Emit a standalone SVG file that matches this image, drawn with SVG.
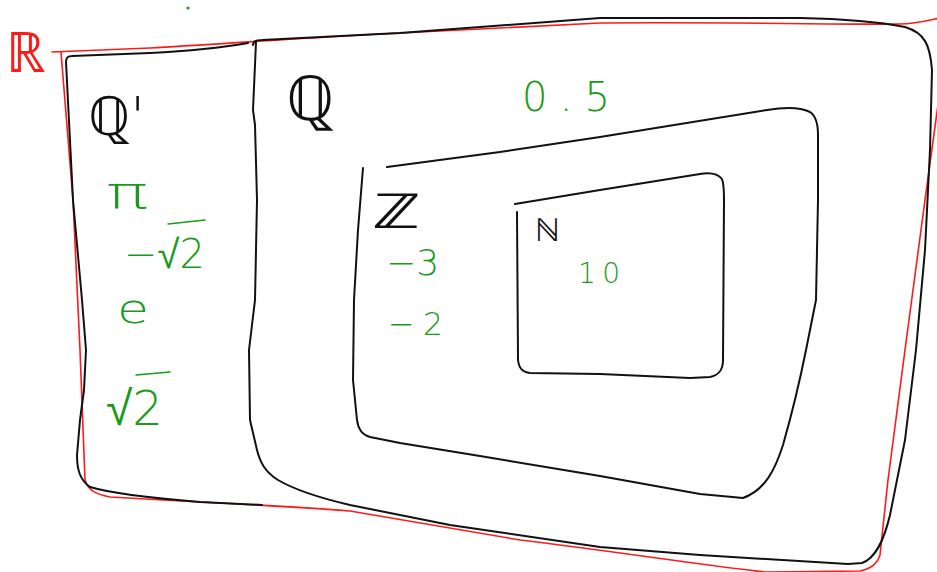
<svg xmlns="http://www.w3.org/2000/svg" width="937" height="572" viewBox="0 0 937 572">
<style>
.red{fill:none;stroke:#ff1a1a;stroke-width:1.6;stroke-linecap:round;stroke-linejoin:round}
.blk{fill:none;stroke:#111;stroke-width:2;stroke-linecap:round;stroke-linejoin:round}
.lab{font-family:"DejaVu Sans","Noto Sans",sans-serif;font-weight:200;fill:#111}
.grn{font-family:"DejaVu Sans","Noto Sans",sans-serif;font-weight:200;fill:#1a9a1a}
.gl{fill:none;stroke:#1a9a1a;stroke-width:1.4;stroke-linecap:round}
</style>
<rect width="937" height="572" fill="#fff"/>
<g id="R">
<path class="red" d="M52,52 L150,48 C220,44 300,38 400,33 L600,23 C750,22 850,25 900,24 C915,24 926,21 940,18"/>
<path class="red" d="M940,90 L925,200 L905,350 L888,480 L880,555 C877,565 870,569 860,571 L765,572 C700,565 620,552 520,540 L350,511 C300,507 260,505 200,502 L110,497 C95,494 88,490 85,480 L80,350 L73,200 L61,52"/>
<text class="lab" x="6" y="72" font-size="56" style="fill:#ff1a1a">ℝ</text>
</g>
<g id="Qprime">
<path class="blk" d="M248,43 C220,48 190,51 150,53 L72,56 C68,56 66,57 66,62 L73,200 L82,300 L86,350 L84,390 L80,420 L77,455 C77,470 80,480 90,487 C110,493 150,498 200,502 L262,505"/>
<text class="lab" x="88" y="135" font-size="54">ℚ'</text>
</g>
<g id="Q">
<path class="blk" d="M253,45 C253,41 256,40 262,40 L400,33 L600,18 L800,18 C850,19 880,22 905,27 C925,33 930,45 932,70 L930,150 L925,250 L916,350 L905,440 L890,515 C884,540 876,558 862,563 L848,564 L700,555 L600,547 L450,525 L350,505 C320,498 295,490 278,480 C265,472 260,462 257,450 L250,420 L249,350 L255,300 L257,200 L255,125 L253,110 L256,42"/>
<text class="lab" x="286" y="120" font-size="62">ℚ</text>
</g>
<g id="Z">
<path class="blk" d="M387,167 L500,152 L600,137 L767,110 C785,107 800,107 810,112 C816,116 818,125 818,135 L818,200 L816,300 L806,350 C800,380 793,410 783,445 C775,470 765,490 743,498 L700,494 L600,476 L480,456 L400,443 L370,437 C362,435 358,428 357,420 L353,380 L354,300 L358,230 L363,168"/>
<text class="lab" transform="translate(372,228) scale(1.6,1)" font-size="48">ℤ</text>
</g>
<g id="N">
<path class="blk" d="M515,204 L600,190 L700,174 C712,172 718,174 722,179 C724,184 724,190 724,200 L723,360 C723,370 719,375 710,377 L690,378 L600,374 L530,373 C522,372 519,368 518,360 L517,212"/>
<text class="lab" x="535" y="241" font-size="32">ℕ</text>
</g>
<g id="elements">
<text class="grn" x="522" y="111" font-size="40" textLength="88" lengthAdjust="spacing">0.5</text>
<text class="grn" transform="translate(106,208) scale(1.6,1)" font-size="44">π</text>
<text class="grn" x="124" y="268" font-size="40">−√2</text>
<path class="gl" d="M168,224 L205,220"/>
<text class="grn" transform="translate(117,323) scale(1.3,1)" font-size="40">e</text>
<text class="grn" x="106" y="425" font-size="48">√2</text>
<path class="gl" d="M136,375 L170,372"/>
<text class="grn" x="386" y="275" font-size="36">−3</text>
<text class="grn" x="388" y="335" font-size="32" textLength="55" lengthAdjust="spacing">−2</text>
<text class="grn" x="578" y="283" font-size="28" textLength="42" lengthAdjust="spacing">10</text>
<circle cx="188" cy="8" r="1.6" fill="#1a9a1a"/>
</g>
<g id="connectors"/>
</svg>
